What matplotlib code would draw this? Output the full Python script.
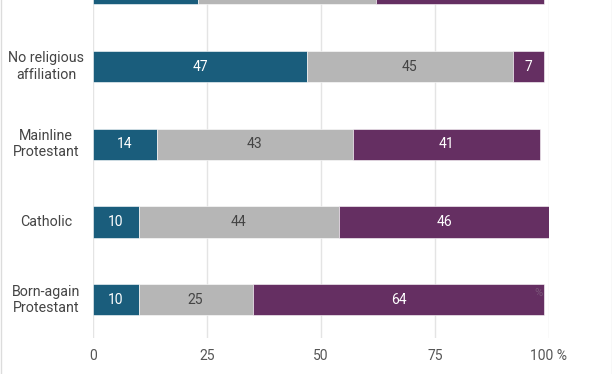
import matplotlib
matplotlib.use("Agg")
import matplotlib.pyplot as plt
from matplotlib.lines import Line2D

categories = ["Born-again\nProtestant", "Catholic", "Mainline\nProtestant",
              "No religious\naffiliation", ""]
blue_vals = [10, 10, 14, 47, 23]
gray_vals = [25, 44, 43, 45, 39]
purple_vals = [64, 46, 41, 7, 37]
xticks = [0, 25, 50, 75, 100]
xtick_labels = ["0", "25", "50", "75", "100 %"]

colors = ["#1a5d7c", "#b6b6b6", "#652f62"]
text_colors = ["white", "#444444", "white"]

plt.rcParams['font.family'] = ['Roboto', 'DejaVu Sans']

W, H = 612, 374
fig = plt.figure(figsize=(W / 100, H / 100), dpi=100)
ax = fig.add_axes([93 / W, 1 - 338 / H, (549 - 93) / W, 338 / H])
ylim = (-0.493, 3.857)

ypos = list(range(len(categories)))
left = [0] * len(categories)
for vals, c, tc in zip([blue_vals, gray_vals, purple_vals], colors, text_colors):
    ax.barh(ypos, vals, left=left, height=0.4, color=c, edgecolor="white",
            linewidth=0.4, zorder=3)
    for y, v, l in zip(ypos, vals, left):
        if y + 0.2 < ylim[1]:  # label only bars whose centre lies in view
            ax.text(l + v / 2, y, str(v), ha="center", va="center",
                    color=tc, fontsize=10, zorder=4)
    left = [a + b for a, b in zip(left, vals)]

ax.set_xlim(0, 100)
ax.set_ylim(*ylim)
ax.set_xticks(xticks)
ax.set_xticklabels(xtick_labels)
ax.set_yticks([])
ax.tick_params(axis="x", length=0, pad=8, labelsize=10, labelcolor="#555555")
for y, lab in zip(ypos, categories):
    if lab:
        ax.text(-10.3, y, lab, ha="center", va="center", multialignment="center",
                fontsize=10.3, color="#444444", linespacing=1.2, clip_on=False)
ax.grid(axis="x", color="#e4e4e4", linewidth=1, zorder=0)
for s in ax.spines.values():
    s.set_visible(False)

# faint stray percent sign seen in reference
ax.text(97.8, 0.09, "%", ha="center", va="center", color="#7a5578",
        fontsize=8, zorder=5)

# figure border lines left/right
fig.add_artist(Line2D([0.5 / W, 0.5 / W], [0, 1], color="#dcdcdc", lw=1,
                      transform=fig.transFigure))
fig.add_artist(Line2D([1 - 0.5 / W, 1 - 0.5 / W], [0, 1], color="#dcdcdc", lw=1,
                      transform=fig.transFigure))

fig.savefig("out.png", dpi=100)
